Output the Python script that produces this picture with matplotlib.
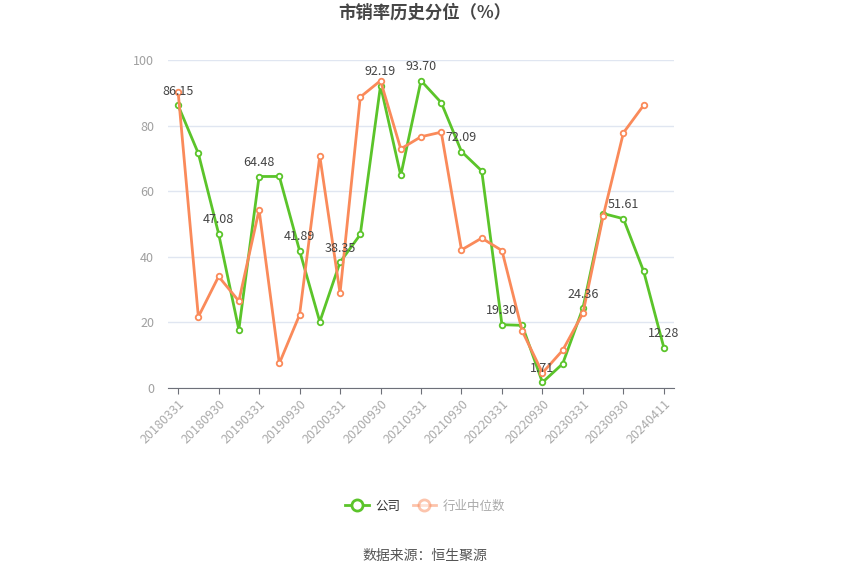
import matplotlib

matplotlib.use("Agg")
import matplotlib.pyplot as plt
from matplotlib.lines import Line2D

plt.rcParams["font.family"] = ["Noto Sans CJK SC", "DejaVu Sans"]

# --- DATA ---
dates = [
    "20180331", "20180630", "20180930", "20181231",
    "20190331", "20190630", "20190930", "20191231",
    "20200331", "20200630", "20200930", "20201231",
    "20210331", "20210630", "20210930", "20211231",
    "20220331", "20220630", "20220930", "20221231",
    "20230331", "20230630", "20230930", "20231231",
    "20240411",
]
company = [
    86.15, 71.5, 47.08, 17.8, 64.48, 64.5, 41.89, 20.2,
    38.35, 46.8, 92.19, 64.8, 93.70, 87.0, 72.09, 66.2,
    19.30, 19.1, 1.71, 7.4, 24.36, 53.2, 51.61, 35.6,
    12.28,
]
industry = [
    90.3, 21.7, 34.0, 26.5, 54.3, 7.5, 22.3, 70.7,
    28.9, 88.7, 93.7, 72.9, 76.6, 78.0, 42.1, 45.7,
    41.9, 17.4, 4.6, 11.5, 22.8, 52.4, 77.8, 86.2,
]
labelled = [0, 2, 4, 6, 8, 10, 12, 14, 16, 18, 20, 22, 24]

GREEN = "#5BC42A"
ORANGE = "#FA8A5A"

fig = plt.figure(figsize=(8.5, 5.74), dpi=100)
ax = fig.add_axes([168 / 850, 1 - 388 / 574, 506 / 850, 328 / 574])

x = list(range(len(dates)))
ax.plot(x, company, color=GREEN, lw=2, marker="o", ms=4, mfc="white",
        mec=GREEN, mew=1.3, zorder=2)
ax.plot(x[:len(industry)], industry, color=ORANGE, lw=2, marker="o", ms=4,
        mfc="white", mec=ORANGE, mew=1.3, zorder=3)

for i in labelled:
    ax.annotate(f"{company[i]:.2f}", (x[i], company[i]), xytext=(0, 10),
                textcoords="offset points", ha="center", va="center",
                fontsize=9, color="#444444", zorder=5)

ax.set_xlim(-0.5, len(dates) - 0.5)
ax.set_ylim(0, 100)
ax.set_yticks(range(0, 101, 20))
ax.set_xticks(x[::2])
ax.set_xticklabels(dates[::2], rotation=45, ha="right", rotation_mode="anchor",
                   fontsize=9, color="#AAAAAA")
ax.tick_params(axis="x", length=4, color="#6E7079", pad=3)
ax.tick_params(axis="y", length=0, labelsize=9, labelcolor="#A0A0A0", pad=10)
ax.grid(axis="y", color="#E0E6F1", lw=1)
ax.set_axisbelow(True)
for s in ["top", "right", "left"]:
    ax.spines[s].set_visible(False)
ax.spines["bottom"].set_color("#6E7079")

fig.text(0.5, 1 - 13 / 574, "市销率历史分位（%）", ha="center", va="center",
         fontsize=12.5, fontweight="bold", color="#464646")

handles = [
    Line2D([], [], color=GREEN, lw=2, marker="o", ms=8, mfc="white",
           mec=GREEN, mew=2),
    Line2D([], [], color=ORANGE, lw=2, marker="o", ms=8, mfc="white",
           mec=ORANGE, mew=2, alpha=0.5),
]
leg = fig.legend(handles, ["公司", "行业中位数"], loc="center",
                 bbox_to_anchor=(0.5, 1 - 506 / 574), ncol=2, frameon=False,
                 fontsize=9, handlelength=1.9, columnspacing=1.0,
                 handletextpad=0.5)
leg.get_texts()[0].set_color("#333333")
leg.get_texts()[1].set_color("#AAAAAA")

fig.text(0.5, 1 - 556 / 574, "数据来源：恒生聚源", ha="center", va="center",
         fontsize=10, color="#555555")

fig.savefig("out.png", dpi=100)
